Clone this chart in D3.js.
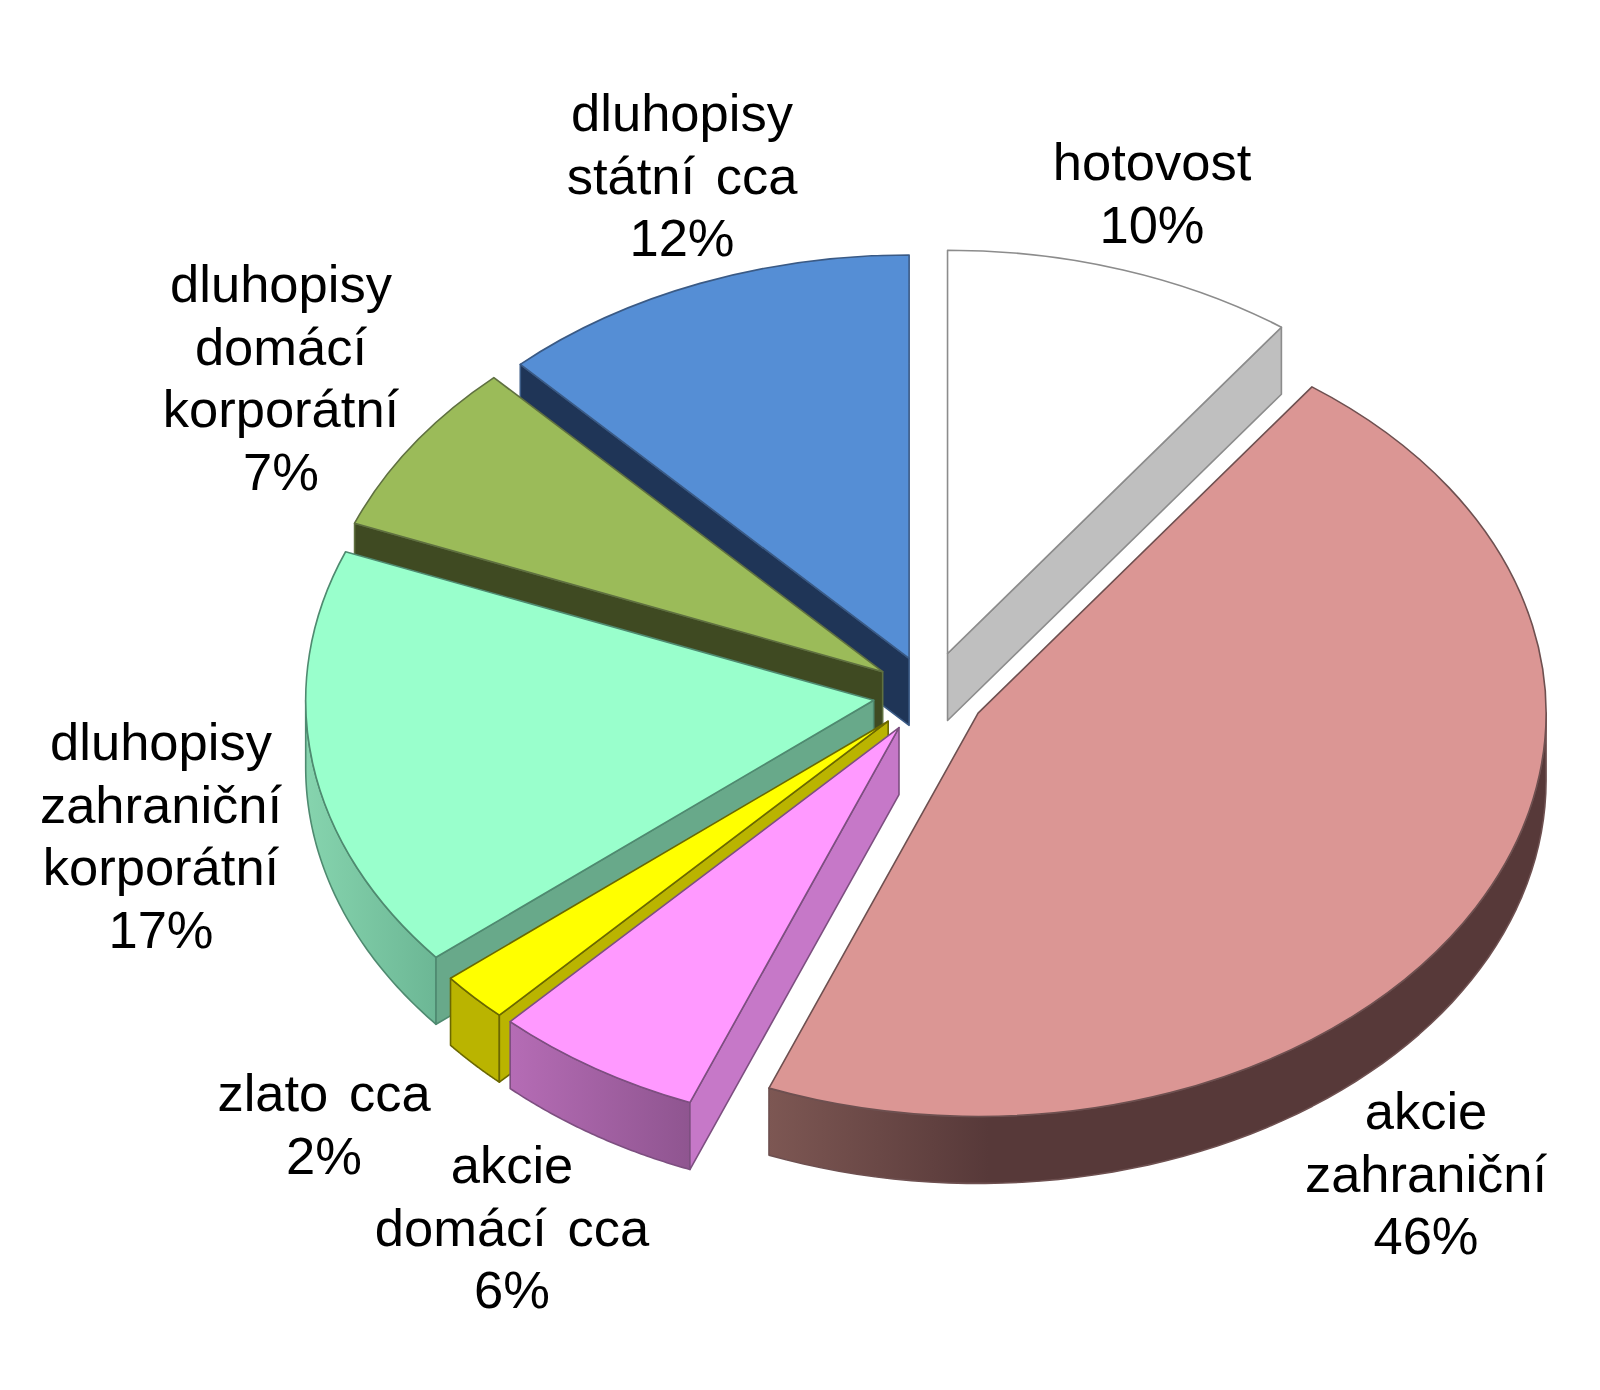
<!DOCTYPE html>
<html><head><meta charset="utf-8">
<script src="https://cdn.jsdelivr.net/npm/d3@7"></script>
<style>html,body{margin:0;background:#fff}svg{display:block}text{font-family:"Liberation Sans",Arial,sans-serif;font-size:52.5px;fill:#000;text-anchor:middle;word-spacing:6px}</style>
</head><body>
<svg id="c" width="1600" height="1390"></svg>
<script>
const categories = ["hotovost","akcie zahraniční","akcie domácí","zlato","dluhopisy zahraniční korporátní","dluhopisy domácí korporátní","dluhopisy státní"];
const shares = [10,46,6,2,17,7,12];
const labelLines = [["hotovost","10%"],["akcie","zahraniční","46%"],["akcie","domácí cca","6%"],["zlato cca","2%"],["dluhopisy","zahraniční","korporátní","17%"],["dluhopisy","domácí","korporátní","7%"],["dluhopisy","státní cca","12%"]];
const topColors = ["#ffffff","#db9694","#ff99ff","#ffff00","#99ffcc","#9bbb59","#558ed5"];
const radialColors = ["#bfbfbf","#5a3a3a","#c678c8","#bab400","#68a98a","#3f4a22","#1f3557"];
const wallFrom = ["#bfbfbf","#7d5753","#b56cb5","#bab400","#86d4ae","#3f4a22","#1f3557"];
const wallTo = ["#bfbfbf","#573939","#8f5590","#bab400","#6cb795","#3f4a22","#1f3557"];
const edgeColors = ["#8c8c8c","#6e5050","#7d4f80","#6b6800","#4f8a70","#5f7040","#3a5a85"];
const explodeBy = [60,56,56,56,56,56,54];
const labelX = [1152,1426,512,324,161,281,682];
const labelY = [180,1129,1183,1111,760,302,131];

const cx=929, cy=694, rx=568, tilt=0.71, depth=67, lineGap=62.5;
const svg=d3.select("#c");
const defs=svg.append("defs");
const pie=d3.pie().sort(null).value(d=>d).startAngle(0).endAngle(2*Math.PI);
const arcs=pie(shares);
const topArc=d3.arc().innerRadius(0).outerRadius(rx);
const line=d3.line();
const pt=(a,r,c)=>[c[0]+r*Math.sin(a),c[1]-r*tilt*Math.cos(a)];

const order=d3.range(arcs.length).sort((i,j)=>Math.cos((arcs[j].startAngle+arcs[j].endAngle)/2)-Math.cos((arcs[i].startAngle+arcs[i].endAngle)/2));

order.forEach(i=>{
  const d=arcs[i], mid=(d.startAngle+d.endAngle)/2, e=explodeBy[i];
  const c=[cx+e*Math.sin(mid),cy-e*tilt*Math.cos(mid)];
  const g=svg.append("g").attr("stroke",edgeColors[i]).attr("stroke-width",1.6).attr("stroke-linejoin","round");
  const lo=Math.max(d.startAngle,Math.PI/2), hi=Math.min(d.endAngle,3*Math.PI/2);
  if(hi>lo){
    const top=d3.range(0,61).map(t=>pt(lo+(hi-lo)*t/60,rx,c));
    const bottom=top.map(p=>[p[0],p[1]+depth]).reverse();
    const xs=d3.extent(top,p=>p[0]);
    const id="w"+i;
    const lg=defs.append("linearGradient").attr("id",id).attr("gradientUnits","userSpaceOnUse")
      .attr("x1",xs[0]).attr("x2",xs[0]+Math.min(xs[1]-xs[0],220)).attr("y1",0).attr("y2",0);
    lg.append("stop").attr("offset",0).attr("stop-color",wallFrom[i]);
    lg.append("stop").attr("offset",1).attr("stop-color",wallTo[i]);
    g.append("path").attr("d",line(top.concat(bottom))+"Z").attr("fill",`url(#${id})`);
  }
  [[d.startAngle,-Math.sin(d.startAngle)],[d.endAngle,Math.sin(d.endAngle)]].forEach(([a,facing])=>{
    if(facing>1e-6){
      const p=pt(a,rx,c);
      g.append("path").attr("d",line([c,p,[p[0],p[1]+depth],[c[0],c[1]+depth]])+"Z").attr("fill",radialColors[i]);
    }
  });
  g.append("path").attr("d",topArc(d)).attr("fill",topColors[i])
    .attr("vector-effect","non-scaling-stroke")
    .attr("transform",`translate(${c[0]},${c[1]}) scale(1,${tilt})`);
});

labelLines.forEach((lines,i)=>{
  const t=svg.append("text");
  lines.forEach((s,k)=>t.append("tspan").attr("x",labelX[i]).attr("y",labelY[i]+k*lineGap).text(s));
});
</script>
</body></html>
